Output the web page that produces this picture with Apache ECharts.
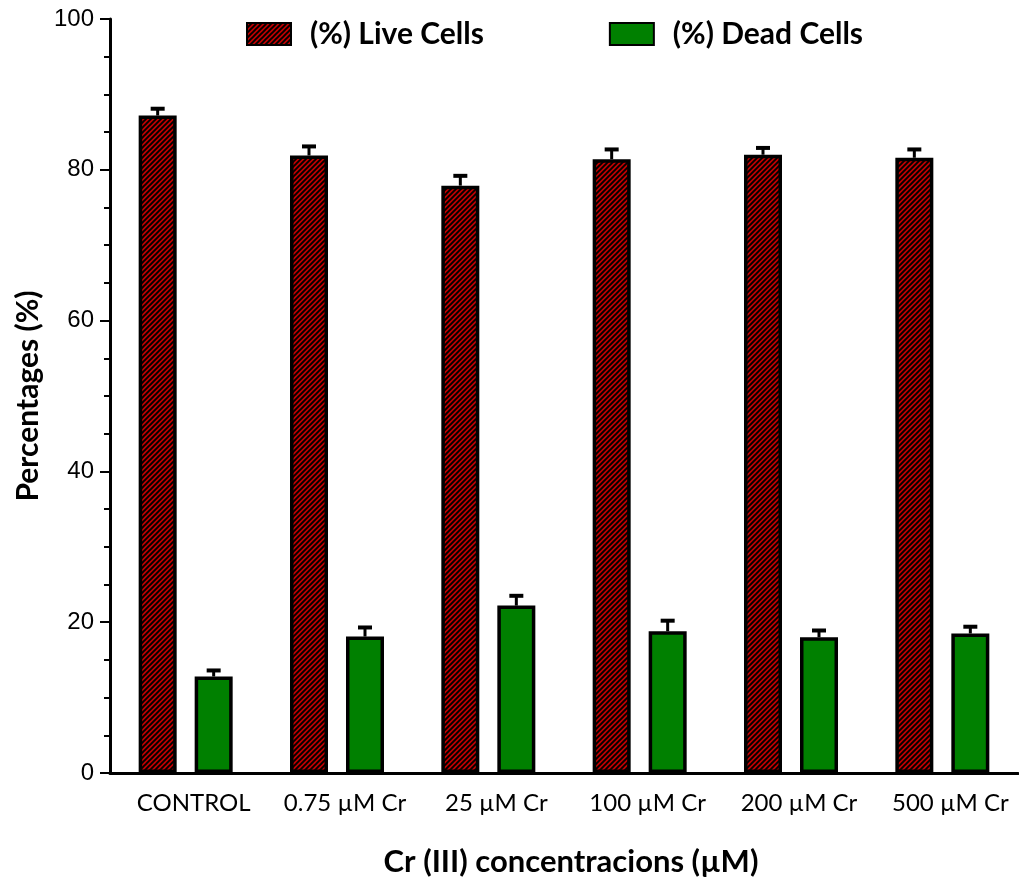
<!DOCTYPE html>
<html><head><meta charset="utf-8">
<script src="https://cdn.jsdelivr.net/npm/echarts@6/dist/echarts.min.js"></script>
<style>html,body{margin:0;padding:0;background:#fff;overflow:hidden}#c{width:1019px;height:882px}</style>
</head><body><div id="c"></div>
<script>
var categories = ['CONTROL', '0.75 µM Cr', '25 µM Cr', '100 µM Cr', '200 µM Cr', '500 µM Cr'];
var liveCells = [87.2, 81.9, 77.9, 81.4, 82.0, 81.6];
var liveErr = [0.9, 1.2, 1.3, 1.3, 0.9, 1.1];
var deadCells = [12.8, 18.1, 22.2, 18.8, 18.0, 18.5];
var deadErr = [0.8, 1.2, 1.3, 1.4, 0.9, 0.9];

function hatch() {
  var s = 5, c = document.createElement('canvas');
  c.width = s; c.height = s;
  var g = c.getContext('2d');
  g.fillStyle = '#c00000'; g.fillRect(0, 0, s, s);
  g.strokeStyle = '#000'; g.lineWidth = 1.9;
  g.beginPath();
  g.moveTo(0, s); g.lineTo(s, 0);
  g.moveTo(-s/2, s/2); g.lineTo(s/2, -s/2);
  g.moveTo(s/2, s*1.5); g.lineTo(s*1.5, s/2);
  g.stroke();
  return c;
}
var redPattern = { image: hatch(), repeat: 'repeat' };
var BW = 38, GAP = 18;

function errSeries(vals, errs, side) {
  return {
    type: 'custom', silent: true, z: 5,
    data: vals.map(function (v, i) { return [i, v, v + errs[i]]; }),
    renderItem: function (params, api) {
      var base = api.coord([api.value(0), api.value(1)]);
      var top = api.coord([api.value(0), api.value(2)]);
      var x = base[0] + side * (BW + GAP) / 2;
      return { type: 'group', children: [
        { type: 'line', shape: { x1: x, y1: base[1], x2: x, y2: top[1] }, style: { stroke: '#000', lineWidth: 3 } },
        { type: 'line', shape: { x1: x - 7, y1: top[1], x2: x + 7, y2: top[1] }, style: { stroke: '#000', lineWidth: 4 } }
      ]};
    }
  };
}

var chart = echarts.init(document.getElementById('c'));
chart.setOption({
  animation: false,
  grid: { left: 110, top: 19, right: 1, bottom: 106, containLabel: false },
  legend: {
    top: 19, left: 246, padding: 0, itemGap: 125, itemWidth: 44, itemHeight: 22, icon: 'rect',
    textStyle: { fontFamily: 'Lato', fontWeight: 'bold', fontSize: 30, color: '#000', padding: [0, 0, 0, 14] },
    data: ['(%) Live Cells', '(%) Dead Cells']
  },
  xAxis: {
    type: 'category', data: categories,
    name: 'Cr (III) concentracions (µM)', nameLocation: 'middle', nameGap: 73,
    nameTextStyle: { fontFamily: 'Lato', fontWeight: 'bold', fontSize: 31, color: '#000', padding: [0, 0, 0, 14] },
    axisLine: { lineStyle: { color: '#000', width: 3 } },
    axisTick: { alignWithLabel: true, length: 9, lineStyle: { color: '#000', width: 2 } },
    axisLabel: { interval: 0, fontFamily: 'Lato', fontSize: 24, color: '#000', margin: 18, padding: [0, 0, 0, 16] }
  },
  yAxis: {
    type: 'value', min: 0, max: 100, interval: 20,
    name: 'Percentages (%)', nameLocation: 'middle', nameGap: 67,
    nameTextStyle: { fontFamily: 'Lato', fontWeight: 'bold', fontSize: 30, color: '#000' },
    axisLine: { show: true, lineStyle: { color: '#000', width: 3 } },
    axisTick: { show: true, length: 10, lineStyle: { color: '#000', width: 2 } },
    minorTick: { show: true, splitNumber: 4, length: 6, lineStyle: { color: '#000', width: 2 } },
    splitLine: { show: false },
    axisLabel: { fontFamily: 'Liberation Sans', fontSize: 24, color: '#000', margin: 16 }
  },
  series: [
    { name: '(%) Live Cells', type: 'bar', data: liveCells, barWidth: BW, barGap: (GAP / BW * 100) + '%',
      itemStyle: { color: redPattern, borderColor: '#000', borderWidth: 3.5 } },
    { name: '(%) Dead Cells', type: 'bar', data: deadCells, barWidth: BW,
      itemStyle: { color: '#008000', borderColor: '#000', borderWidth: 3.5 } },
    errSeries(liveCells, liveErr, -1),
    errSeries(deadCells, deadErr, 1)
  ]
});
</script></body></html>
